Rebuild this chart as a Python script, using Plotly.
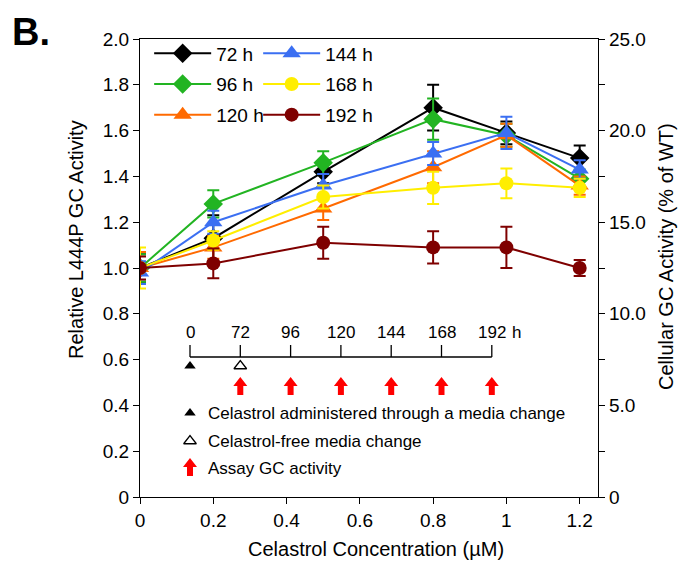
import plotly.graph_objects as go

# ---------------- data ----------------
conc = [0, 0.2, 0.5, 0.8, 1.0, 1.2]
series_names = ["72 h", "96 h", "120 h", "144 h", "168 h", "192 h"]
h72 = [1.00, 1.13, 1.42, 1.70, 1.59, 1.48]
h96 = [1.00, 1.28, 1.46, 1.65, 1.58, 1.39]
h120 = [1.00, 1.09, 1.26, 1.44, 1.58, 1.36]
h144 = [0.98, 1.20, 1.36, 1.50, 1.59, 1.43]
h168 = [1.00, 1.12, 1.31, 1.35, 1.37, 1.35]
h192 = [1.00, 1.02, 1.11, 1.09, 1.09, 1.00]
e72 = [0.06, 0.10, 0.05, 0.10, 0.05, 0.055]
e96 = [0.06, 0.06, 0.05, 0.09, 0.05, 0.04]
e120 = [0.07, 0.05, 0.05, 0.07, 0.05, 0.04]
e144 = [0.05, 0.05, 0.05, 0.05, 0.07, 0.04]
e168 = [0.09, 0.04, 0.05, 0.07, 0.065, 0.04]
e192 = [0.05, 0.065, 0.07, 0.07, 0.09, 0.035]

x_ticks = [0, 0.2, 0.4, 0.6, 0.8, 1.0, 1.2]
x_ticktext = ["0", "0.2", "0.4", "0.6", "0.8", "1", "1.2"]
y_ticks = [0, 0.2, 0.4, 0.6, 0.8, 1.0, 1.2, 1.4, 1.6, 1.8, 2.0]
y_ticktext = ["0", "0.2", "0.4", "0.6", "0.8", "1.0", "1.2", "1.4", "1.6", "1.8", "2.0"]
y2_ticks = [0, 2.5, 5, 7.5, 10, 12.5, 15, 17.5, 20, 22.5, 25]
y2_ticktext = ["0", "", "5.0", "", "10.0", "", "15.0", "", "20.0", "", "25.0"]

timeline_labels = ["0", "72", "96", "120", "144", "168", "192"]
schematic_text = ["Celastrol administered through a media change",
                  "Celastrol-free media change",
                  "Assay GC activity"]

# ---------------- styling ----------------
FONT = "Arial, Liberation Sans, sans-serif"
values = [h72, h96, h120, h144, h168, h192]
errors = [e72, e96, e120, e144, e168, e192]
colors = ["#000000", "#22b422", "#ff6a00", "#3b6ff2", "#ffee00", "#7f0000"]
symbols = ["diamond", "diamond", "triangle-up", "triangle-up", "circle", "circle"]
sizes = [15, 15, 16, 16, 14, 14]
legend_ids = ["legend", "legend", "legend", "legend2", "legend2", "legend2"]

fig = go.Figure()
for i, name in enumerate(series_names):
    fig.add_trace(go.Scatter(
        x=conc, y=values[i], name=name, mode="lines+markers",
        line=dict(color=colors[i], width=2),
        marker=dict(symbol=symbols[i], size=sizes[i], color=colors[i]),
        error_y=dict(type="data", array=errors[i], color=colors[i],
                     thickness=2, width=6),
        legend=legend_ids[i], legendgroup=name,
    ))

# invisible trace to activate the right axis
fig.add_trace(go.Scatter(x=[0], y=[0], yaxis="y2", mode="markers",
                         marker=dict(opacity=0), showlegend=False,
                         hoverinfo="skip"))

# ---------------- schematic inset ----------------
XL, XR = 140.0, 598.0
YT, YB = 39.0, 497.0
XMAX, YMAX = 1.25, 2.0


def dx(px):
    return (px - XL) / (XR - XL) * XMAX


def dy(py):
    return (YB - py) / (YB - YT) * YMAX


def px_paper(px):
    return (px - XL) / (XR - XL)


def py_paper(py):
    return (YB - py) / (YB - YT)


t0, tstep = 190.0, 50.3
tpos = [t0 + tstep * i for i in range(len(timeline_labels))]
line_py = 357
shapes = []
shapes.append(dict(type="line", xref="x", yref="y", x0=dx(tpos[0]), x1=dx(tpos[-1]),
                   y0=dy(line_py), y1=dy(line_py), line=dict(color="black", width=1.3)))
annotations = []
for p, lab in zip(tpos, timeline_labels):
    shapes.append(dict(type="line", xref="x", yref="y", x0=dx(p), x1=dx(p),
                       y0=dy(line_py), y1=dy(line_py - 12), line=dict(color="black", width=1.3)))
    annotations.append(dict(x=dx(p), y=dy(332), xref="x", yref="y", text=lab,
                            xanchor="center", yanchor="middle",
                            showarrow=False, font=dict(size=17, family=FONT, color="black")))
annotations.append(dict(x=dx(tpos[-1] + 18), y=dy(332), xref="x", yref="y", text="h",
                        xanchor="left", yanchor="middle", showarrow=False,
                        font=dict(size=17, family=FONT, color="black")))

# triangles on timeline and in key
fig.add_trace(go.Scatter(x=[dx(tpos[0]), dx(190)], y=[dy(366), dy(413)], mode="markers",
                         marker=dict(symbol="triangle-up", size=10, color="black"),
                         showlegend=False, hoverinfo="skip"))
fig.add_trace(go.Scatter(x=[dx(tpos[1]), dx(190)], y=[dy(366), dy(441)], mode="markers",
                         marker=dict(symbol="triangle-up-open", size=11, color="black",
                                     line=dict(width=1.3)),
                         showlegend=False, hoverinfo="skip"))


def arrow_path(cx, cy):
    # block arrow centred on (cx, cy) in pixels
    pts = [(cx, cy - 9), (cx + 7, cy), (cx + 3, cy), (cx + 3, cy + 9),
           (cx - 3, cy + 9), (cx - 3, cy), (cx - 7, cy)]
    return "M " + " L ".join(f"{dx(a)},{dy(b)}" for a, b in pts) + " Z"


for p in tpos[1:]:
    shapes.append(dict(type="path", xref="x", yref="y", path=arrow_path(p, 386),
                       fillcolor="#ff0000", line=dict(width=0)))
shapes.append(dict(type="path", xref="x", yref="y", path=arrow_path(190, 467),
                   fillcolor="#ff0000", line=dict(width=0)))

for txt, py in zip(schematic_text, [413, 441, 468]):
    annotations.append(dict(x=dx(206), y=dy(py), xref="x", yref="y", text=txt,
                            xanchor="left", yanchor="middle", showarrow=False,
                            font=dict(size=17, family=FONT, color="black")))

# titles
annotations.append(dict(x=px_paper(31), y=py_paper(32), xref="paper", yref="paper",
                        text="<b>B.</b>", showarrow=False, xanchor="center", yanchor="middle",
                        font=dict(size=38, family=FONT, color="black")))
annotations.append(dict(x=px_paper(76), y=py_paper(240), xref="paper", yref="paper",
                        text="Relative L444P GC Activity", textangle=-90,
                        xanchor="center", yanchor="middle",
                        showarrow=False, font=dict(size=20, family=FONT, color="black")))
annotations.append(dict(x=px_paper(666), y=py_paper(257), xref="paper", yref="paper",
                        text="Cellular GC Activity (% of WT)", textangle=-90,
                        xanchor="center", yanchor="middle",
                        showarrow=False, font=dict(size=20, family=FONT, color="black")))
annotations.append(dict(x=px_paper(376), y=py_paper(549), xref="paper", yref="paper",
                        text="Celastrol Concentration (µM)",
                        xanchor="center", yanchor="middle",
                        showarrow=False, font=dict(size=20, family=FONT, color="black")))

axis_common = dict(showline=True, linecolor="black", linewidth=1.3, ticks="outside",
                   ticklen=6, tickwidth=1.3, tickcolor="black", showgrid=False,
                   zeroline=False, tickfont=dict(size=19, family=FONT, color="black"))

fig.update_layout(
    width=691, height=565,
    margin=dict(l=XL, r=691 - XR, t=YT, b=565 - YB),
    paper_bgcolor="white", plot_bgcolor="white",
    xaxis=dict(range=[0, XMAX], tickvals=x_ticks, ticktext=x_ticktext, mirror=True,
               **axis_common),
    yaxis=dict(range=[0, YMAX], tickvals=y_ticks, ticktext=y_ticktext, **axis_common),
    yaxis2=dict(range=[0, 25], tickvals=y2_ticks, ticktext=y2_ticktext, overlaying="y",
                side="right", **axis_common),
    legend=dict(x=0.02, y=1.01, xanchor="left", yanchor="top", bgcolor="rgba(0,0,0,0)",
                font=dict(size=19, family=FONT, color="black"), tracegroupgap=3,
                itemwidth=57, traceorder="grouped"),
    legend2=dict(x=0.258, y=1.01, xanchor="left", yanchor="top", bgcolor="rgba(0,0,0,0)",
                 font=dict(size=19, family=FONT, color="black"), tracegroupgap=3,
                 itemwidth=57, traceorder="grouped"),
    shapes=shapes, annotations=annotations,
    showlegend=True,
)

fig.write_html("out.html")
